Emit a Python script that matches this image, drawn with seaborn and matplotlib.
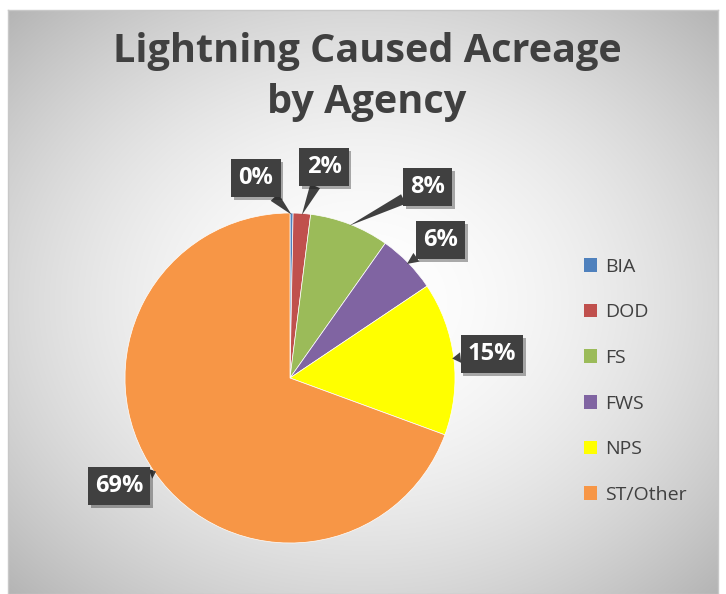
import numpy as np
import matplotlib
matplotlib.use("Agg")
import matplotlib.pyplot as plt
import matplotlib.patheffects as pe
from matplotlib.patches import Patch
import seaborn as sns

sns.set_theme(style="white")
plt.rcParams['font.family'] = ['Open Sans', 'DejaVu Sans']

# ---- data ----
agencies = ["BIA", "DOD", "FS", "FWS", "NPS", "ST/Other"]
shares = [0.3, 1.7, 7.8, 5.8, 15.0, 69.4]
pct_labels = ["0%", "2%", "8%", "6%", "15%", "69%"]
colors = ["#4F81BD", "#C0504D", "#9BBB59", "#8064A2", "#FFFF00", "#F79646"]
title = "Lightning Caused Acreage\nby Agency"

W, H = 726, 594
fig = plt.figure(figsize=(W / 100, H / 100), dpi=100)
fig.patch.set_facecolor("white")

# background panel with radial gradient
bx0, by0, bx1, by1 = 8, 10, 718, 594
ax_bg = fig.add_axes([bx0 / W, 1 - by1 / H, (bx1 - bx0) / W, (by1 - by0) / H], zorder=-5)
gx = np.linspace(0, 1, 300)
gy = np.linspace(0, 1, 300)
GX, GY = np.meshgrid(gx, gy)
r = np.sqrt(((GX - 0.5) / 0.62) ** 2 + ((GY - 0.5) / 0.62) ** 2)
val = 1.0 - 0.23 * np.clip(r, 0, 1.3) ** 1.8
img = np.dstack([val, val, val])
ax_bg.imshow(img, extent=[0, 1, 0, 1], aspect="auto", interpolation="bilinear")
ax_bg.set_xticks([])
ax_bg.set_yticks([])
for s in ax_bg.spines.values():
    s.set_color("#c8c8c8")
    s.set_linewidth(1)

# title
fig.text(367 / W, 1 - 77 / H, title, ha="center", va="center", fontsize=28.5,
         fontweight="bold", color="#404040", linespacing=1.4)

# pie axes
cx, cy, R = 290, 378, 165
ax = fig.add_axes([(cx - R) / W, 1 - (cy + R) / H, 2 * R / W, 2 * R / H])
ax.set_facecolor("none")
wedges, _ = ax.pie(shares, colors=colors, startangle=90, counterclock=False,
                   radius=1.0, wedgeprops=dict(edgecolor="white", linewidth=0.5))
ax.set_xlim(-1, 1)
ax.set_ylim(-1, 1)
ax.set_aspect("equal")
ax.axis("off")

# label positions (in pie units, relative to center)
label_pos = [(-0.206, 1.212), (0.206, 1.279), (0.836, 1.158),
             (0.915, 0.836), (1.224, 0.145), (-1.036, -0.655)]

for w, lab, pos in zip(wedges, pct_labels, label_pos):
    mid = np.deg2rad((w.theta1 + w.theta2) / 2)
    xy = (np.cos(mid) * 0.99, np.sin(mid) * 0.99)
    t = ax.annotate(lab, xy=xy, xytext=pos, ha="center", va="center",
                    fontsize=17, fontweight="bold", color="white",
                    bbox=dict(boxstyle="square,pad=0.3", fc="#404040", ec="none"),
                    arrowprops=dict(arrowstyle="wedge,tail_width=0.45,shrink_factor=0.5",
                                    fc="#404040", ec="none", shrinkA=0, shrinkB=0),
                    annotation_clip=False, zorder=5)
    t.get_bbox_patch().set_path_effects([pe.SimplePatchShadow(offset=(2, -2), alpha=0.35),
                                         pe.Normal()])

# legend
handles = [Patch(facecolor=c, edgecolor="none", label=a) for c, a in zip(colors, agencies)]
leg = fig.legend(handles=handles, loc="upper left", bbox_to_anchor=(576 / W, 1 - 250 / H),
                 frameon=False, fontsize=14, handlelength=0.7, handleheight=0.7,
                 handletextpad=0.4, labelspacing=1.42, borderaxespad=0)
for txt in leg.get_texts():
    txt.set_color("#404040")

fig.savefig("out.png", dpi=100)
